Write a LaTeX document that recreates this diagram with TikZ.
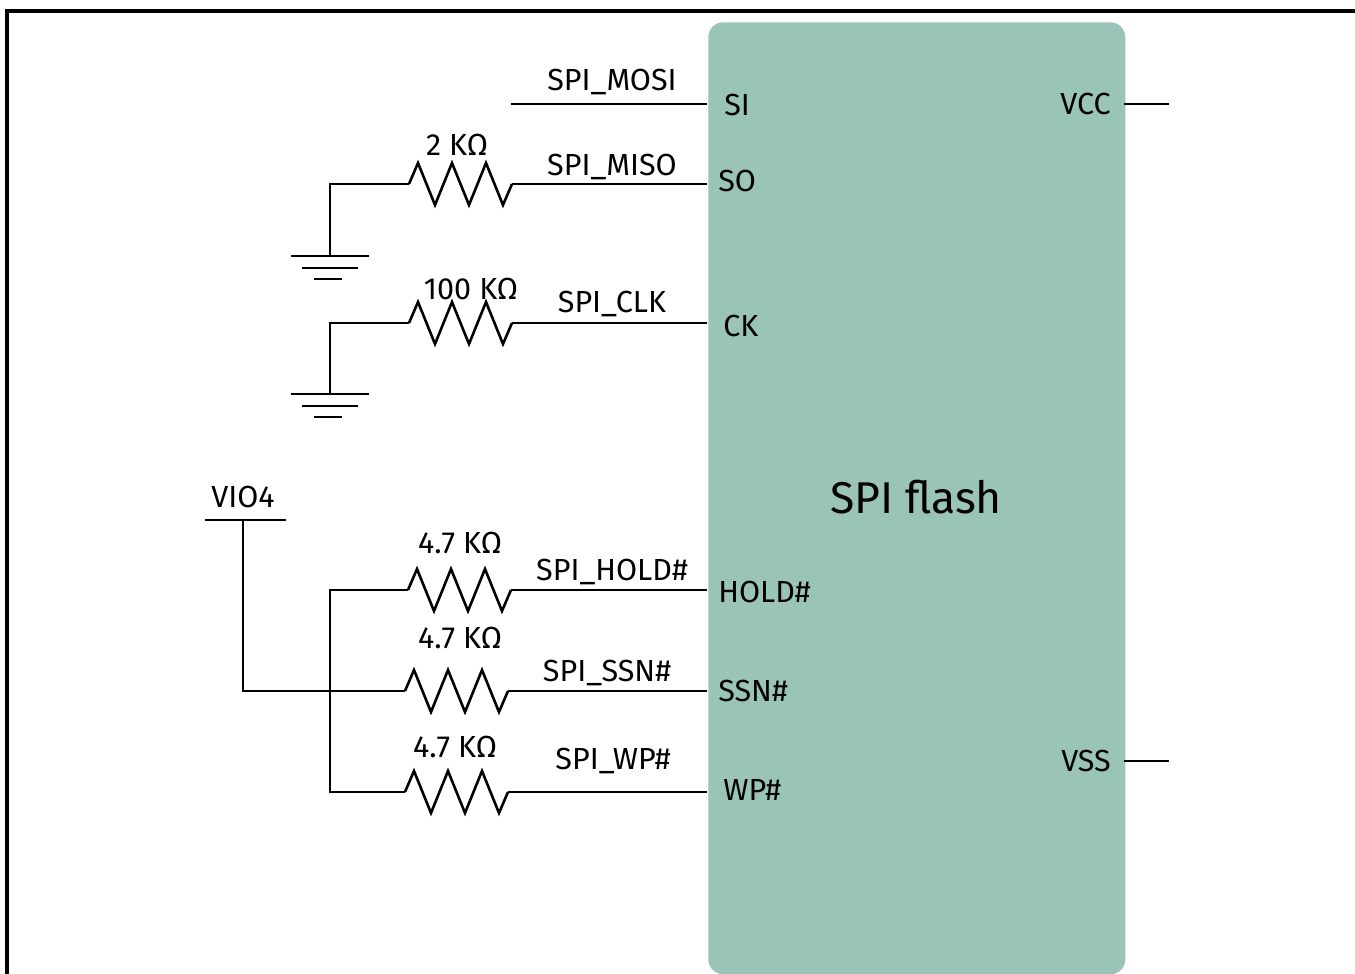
\documentclass[tikz,border=0pt]{standalone}
\usepackage{fontspec}
\setmainfont{Fira Sans}
\definecolor{chip}{RGB}{155,196,184}
\begin{document}
\begin{tikzpicture}[x=1pt,y=-1pt,line width=2.6pt,
  lbl/.style={inner sep=0pt,font=\fontsize{30.5}{32}\selectfont},
  big/.style={inner sep=0pt,font=\fontsize{44.5}{48}\selectfont},
  wire/.style={draw=black,line width=2.6pt},
  res/.pic={\draw[line width=2.6pt,line join=miter] (0,0) -- ++(9,-21) -- ++(17,42) -- ++(17,-42) -- ++(17,42) -- ++(17,-42) -- ++(17,42) -- ++(9,-21);},
  gnd/.pic={\draw[line width=2.6pt] (-39,0) -- (39,0) (-28,12) -- (28,12) (-16,23) -- (12,23);}]
\useasboundingbox (0,0) rectangle (1355,974);
% frame
\draw[line width=3.2pt] (7,974) -- (7,11) -- (1355,11);
% chip
\node[fill=chip,rounded corners=15pt,minimum width=417pt,minimum height=952pt,inner sep=0pt,anchor=north west] (chip) at (707,21) {};
\node[big,anchor=base] (title) at (916,513) {SPI flash};
% pin labels
\node[lbl,anchor=base west] (pSI) at (723,115) {SI};
\node[lbl,anchor=base west] (pSO) at (717,191) {SO};
\node[lbl,anchor=base west] (pCK) at (722,336) {CK};
\node[lbl,anchor=base west] (pHOLD) at (717,602) {HOLD\#};
\node[lbl,anchor=base west] (pSSN) at (717,701) {SSN\#};
\node[lbl,anchor=base west] (pWP) at (722,800) {WP\#};
\node[lbl,anchor=base east] (pVCC) at (1112,114) {VCC};
\node[lbl,anchor=base east] (pVSS) at (1112,771) {VSS};
% pin coordinates on box edges
\coordinate (eSI) at (707,104);
\coordinate (eSO) at (707,184);
\coordinate (eCK) at (707,323);
\coordinate (eHOLD) at (707,590);
\coordinate (eSSN) at (707,691);
\coordinate (eWP) at (707,792);
\coordinate (eVCC) at (1124,104);
\coordinate (eVSS) at (1124,761);
\coordinate (oVCC) at (1169,104);
\coordinate (oVSS) at (1169,761);
\draw[wire] (eVCC) -- (oVCC);
\draw[wire] (eVSS) -- (oVSS);
% SI
\coordinate (siL) at (511,104);
\draw[wire] (siL) -- (eSI);
\node[lbl,anchor=base] (nMOSI) at (612,91) {SPI\_MOSI};
% SO
\coordinate (rSOa) at (409,184);
\coordinate (rSOb) at (512,184);
\coordinate (gSOc) at (330,184);
\coordinate (gSO) at (330,256);
\pic at (rSOa) {res};
\draw[wire] (rSOb) -- (eSO);
\draw[wire] (rSOa) -- (gSOc) -- (gSO);
\pic at (gSO) {gnd};
\node[lbl,anchor=base] (vSO) at (457,155) {2 KΩ};
\node[lbl,anchor=base] (nMISO) at (612,175) {SPI\_MISO};
% CK
\coordinate (rCKa) at (409,323);
\coordinate (rCKb) at (512,323);
\coordinate (gCKc) at (330,323);
\coordinate (gCK) at (330,394);
\pic at (rCKa) {res};
\draw[wire] (rCKb) -- (eCK);
\draw[wire] (rCKa) -- (gCKc) -- (gCK);
\pic at (gCK) {gnd};
\node[lbl,anchor=base] (vCK) at (471,299) {100 KΩ};
\node[lbl,anchor=base] (nCLK) at (612,312) {SPI\_CLK};
% VIO4
\node[lbl,anchor=base] (vio) at (243,507) {VIO4};
\coordinate (vioL) at (205,520);
\coordinate (vioR) at (286,520);
\coordinate (vioT) at (243,520);
\draw[wire] (vioL) -- (vioR);
% HOLD
\coordinate (rHOLDa) at (408,590);
\coordinate (rHOLDb) at (511,590);
\coordinate (jHOLD) at (330,590);
\pic at (rHOLDa) {res};
\draw[wire] (rHOLDb) -- (eHOLD);
\node[lbl,anchor=base] (vHOLD) at (460,553) {4.7 KΩ};
\node[lbl,anchor=base] (nHOLD) at (612,580) {SPI\_HOLD\#};
% SSN
\coordinate (rSSNa) at (405,691);
\coordinate (rSSNb) at (508,691);
\coordinate (vioB) at (243,691);
\pic at (rSSNa) {res};
\draw[wire] (rSSNb) -- (eSSN);
\draw[wire] (vioT) -- (vioB) -- (rSSNa);
\node[lbl,anchor=base] (vSSN) at (460,648) {4.7 KΩ};
\node[lbl,anchor=base] (nSSN) at (607,681) {SPI\_SSN\#};
% WP
\coordinate (rWPa) at (405,792);
\coordinate (rWPb) at (508,792);
\coordinate (jWP) at (330,792);
\pic at (rWPa) {res};
\draw[wire] (rWPb) -- (eWP);
\draw[wire] (rHOLDa) -- (jHOLD) -- (jWP) -- (rWPa);
\node[lbl,anchor=base] (vWP) at (455,757) {4.7 KΩ};
\node[lbl,anchor=base] (nWP) at (613,769) {SPI\_WP\#};
\end{tikzpicture}
\end{document}
